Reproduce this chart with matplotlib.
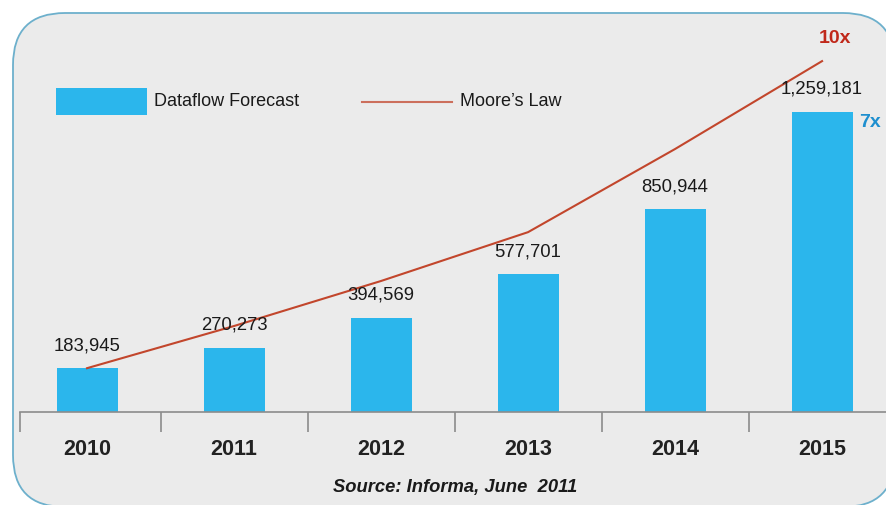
import matplotlib
matplotlib.use('Agg')
import matplotlib.pyplot as plt
from matplotlib.patches import FancyBboxPatch, Rectangle
from matplotlib.lines import Line2D

plt.rcParams['font.family'] = ['Liberation Sans', 'DejaVu Sans']

# data
years = ['2010', '2011', '2012', '2013', '2014', '2015']
dataflow = [183945, 270273, 394569, 577701, 850944, 1259181]
moores_law = [183945, 361000, 550000, 755000, 1104000, 1473000]
dataflow_labels = ['183,945', '270,273', '394,569', '577,701', '850,944', '1,259,181']

bar_color = '#2bb6ec'
line_color = '#c2462c'

W, H = 886, 506
fig = plt.figure(figsize=(W / 100, H / 100), dpi=100)
fig.patch.set_facecolor('white')


def fx(px):
    return px / W


def fy(py):
    return 1 - py / H


# rounded background panel
panel = FancyBboxPatch((fx(13), fy(508)), 882 / W, 494 / H,
                       boxstyle='round,pad=0,rounding_size=%f' % (52 / W),
                       transform=fig.transFigure, facecolor='#ebebeb',
                       edgecolor='#6db0cc', linewidth=1.3,
                       mutation_aspect=W / H, zorder=-1)
fig.patches.append(panel)

ax = fig.add_axes([fx(20), fy(413), 866 / W, 399 / H])
ax.set_facecolor('none')
x = list(range(len(years)))

ax.bar(x, dataflow, width=0.415, color=bar_color, zorder=2)
ax.plot(x, moores_law, color=line_color, linewidth=1.5, zorder=3)

for xi, v, lab in zip(x, dataflow, dataflow_labels):
    ax.annotate(lab, (xi, v), xytext=(0, 17), textcoords='offset points',
                ha='center', va='center', fontsize=13.3, color='#1a1a1a')

ax.annotate('7x', (x[-1] + 0.2075, dataflow[-1]), xytext=(4.5, -7),
            textcoords='offset points', ha='left', va='center',
            fontsize=14, fontweight='bold', color='#1e8fcf')
ax.annotate('10x', (x[-1], moores_law[-1]), xytext=(9, 17),
            textcoords='offset points', ha='center', va='center',
            fontsize=14, fontweight='bold', color='#c0281a')

ax.set_xlim(-0.456, 5.435)
ax.set_ylim(0, 1675000)

for s in ['top', 'right', 'left']:
    ax.spines[s].set_visible(False)
ax.spines['bottom'].set_color('#8c8c8c')
ax.spines['bottom'].set_linewidth(1.2)
ax.set_yticks([])

ax.set_xticks(x)
ax.set_xticklabels(years, fontsize=15.5, fontweight='bold', color='#222222')
ax.tick_params(axis='x', which='major', length=0, pad=19)
ax.set_xticks([-0.456, 0.5, 1.5, 2.5, 3.5, 4.5], minor=True)
ax.tick_params(axis='x', which='minor', length=14.5, width=1.2,
               color='#8c8c8c', direction='out')

# legend, drawn by hand to sit where the original has it
fig.patches.append(Rectangle((fx(56), fy(116)), 91 / W, 27 / H,
                             transform=fig.transFigure, facecolor=bar_color,
                             edgecolor='none'))
fig.text(fx(154), fy(102), 'Dataflow Forecast', ha='left', va='center',
         fontsize=13, color='#1a1a1a')
fig.lines.append(Line2D([fx(362), fx(452)], [fy(103), fy(103)],
                        transform=fig.transFigure, color=line_color,
                        linewidth=1.5, alpha=0.75))
fig.text(fx(460), fy(102), 'Moore\u2019s Law', ha='left', va='center',
         fontsize=13, color='#1a1a1a')

fig.text(fx(455), fy(488), 'Source: Informa, June  2011',
         ha='center', va='center', fontsize=13.2, fontweight='bold',
         fontstyle='italic', color='#1a1a1a')

fig.savefig('out.png', dpi=100)
